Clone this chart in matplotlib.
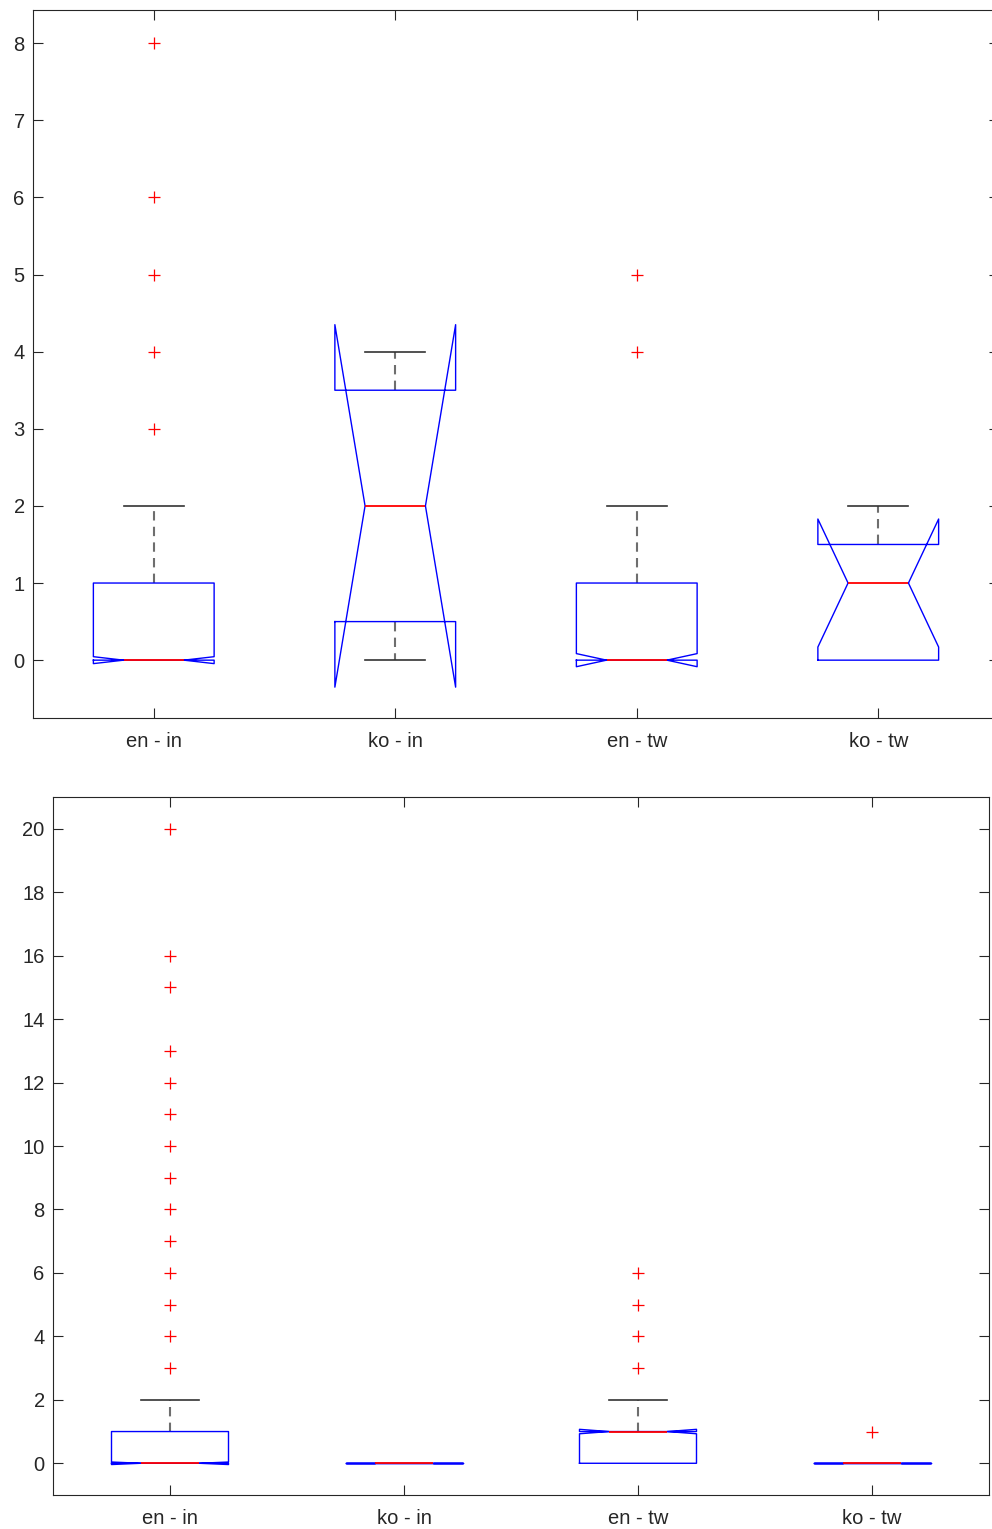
import matplotlib
matplotlib.use('Agg')
import matplotlib.pyplot as plt

plt.rcParams['font.family'] = ['Liberation Sans', 'DejaVu Sans']

etiquetas = ['en - in', 'ko - in', 'en - tw', 'ko - tw']

# Panel superior
sup_q1 = [0, 0.5, 0, 0]
sup_med = [0, 2, 0, 1]
sup_q3 = [1, 3.5, 1, 1.5]
sup_whislo = [0, 0, 0, 0]
sup_whishi = [2, 4, 2, 2]
sup_cilo = [-0.045, -0.35, -0.085, 0.17]
sup_cihi = [0.045, 4.35, 0.085, 1.83]
sup_fliers = [[3, 4, 5, 6, 8], [], [4, 5], []]

# Panel inferior
inf_q1 = [0, 0, 0, 0]
inf_med = [0, 0, 1, 0]
inf_q3 = [1, 0, 1, 0]
inf_whislo = [0, 0, 0, 0]
inf_whishi = [2, 0, 2, 0]
inf_cilo = [-0.04, 0, 0.93, 0]
inf_cihi = [0.04, 0, 1.07, 0]
inf_fliers = [[3, 4, 5, 6, 7, 8, 9, 10, 11, 12, 13, 15, 16, 20], [], [3, 4, 5, 6], [1]]


def armar_stats(q1, med, q3, wlo, whi, cilo, cihi, fliers):
    stats = []
    for i in range(len(q1)):
        stats.append({'q1': q1[i], 'med': med[i], 'q3': q3[i],
                      'whislo': wlo[i], 'whishi': whi[i],
                      'cilo': cilo[i], 'cihi': cihi[i],
                      'fliers': fliers[i], 'label': etiquetas[i]})
    return stats


def graficar(ax, stats, ylim, yticks):
    res = ax.bxp(stats, positions=[1, 2, 3, 4], widths=0.5, shownotches=True,
                 boxprops=dict(color='blue', lw=1.0, zorder=2.2),
                 medianprops=dict(color='red', lw=1.3, zorder=2.3),
                 whiskerprops=dict(color='#6e6e6e', lw=1.5, linestyle=(0, (4.5, 3)), zorder=2.0),
                 capprops=dict(color='#333333', lw=1.2, zorder=2.1),
                 flierprops=dict(marker='+', markeredgecolor='red', markersize=9,
                                 markeredgewidth=0.9, linestyle='none'))
    # ocultar tapas que coinciden con el borde de la caja
    for i, st in enumerate(stats):
        if st['whislo'] == st['q1']:
            res['caps'][2 * i].set_visible(False)
        if st['whishi'] == st['q3']:
            res['caps'][2 * i + 1].set_visible(False)
    ax.set_xlim(0.5, 4.5)
    ax.set_ylim(*ylim)
    ax.set_yticks(yticks)
    ax.set_xticks([1, 2, 3, 4])
    ax.set_xticklabels(etiquetas)
    ax.tick_params(direction='in', length=7, width=0.8, color='#262626',
                   labelcolor='#262626', labelsize=14.5,
                   top=True, right=True)
    ax.tick_params(axis='x', pad=10)
    ax.tick_params(axis='y', pad=6)
    for s in ax.spines.values():
        s.set_color('#262626')
        s.set_linewidth(0.8)


fig = plt.figure(figsize=(9.92, 15.29), dpi=100)
W, H = 992, 1529
ax1 = fig.add_axes([33 / W, 1 - 718 / H, (999 - 33) / W, (718 - 10) / H])
ax2 = fig.add_axes([53 / W, 1 - 1495 / H, (989 - 53) / W, (1495 - 797) / H])

graficar(ax1, armar_stats(sup_q1, sup_med, sup_q3, sup_whislo, sup_whishi,
                          sup_cilo, sup_cihi, sup_fliers),
         (-0.75, 8.43), range(0, 9))
graficar(ax2, armar_stats(inf_q1, inf_med, inf_q3, inf_whislo, inf_whishi,
                          inf_cilo, inf_cihi, inf_fliers),
         (-1, 21), range(0, 21, 2))

fig.savefig('out.png', dpi=100)
